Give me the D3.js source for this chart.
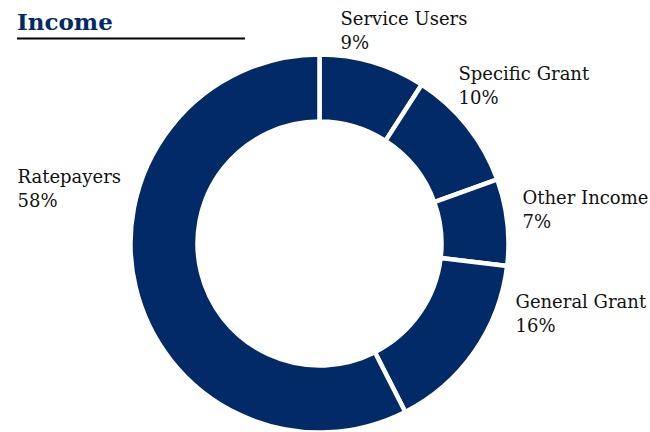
<!DOCTYPE html>
<html>
<head>
<meta charset="utf-8">
<script src="https://cdn.jsdelivr.net/npm/d3@7"></script>
<style>
  body { margin: 0; background: #fff; }
  text { font-family: "DejaVu Serif", "Liberation Serif", serif; }
</style>
</head>
<body>
<svg></svg>
<script>
// data
var categories = ["Service Users", "Specific Grant", "Other Income", "General Grant", "Ratepayers"];
var shares = [9.1, 10.4, 7.4, 15.6, 57.5];
var pctLabels = ["9%", "10%", "7%", "16%", "58%"];

var width = 650, height = 432;
var svg = d3.select("svg").attr("width", width).attr("height", height);

var cx = 319.5, cy = 243.5, outerR = 189, innerR = 122;
var navy = "#022a66";

// title
svg.append("text")
  .attr("x", 17).attr("y", 30)
  .style("font-size", "23px").style("font-weight", "bold")
  .style("fill", navy)
  .text("Income");
svg.append("line")
  .attr("x1", 17).attr("x2", 245).attr("y1", 38.5).attr("y2", 38.5)
  .style("stroke", "#000").style("stroke-width", 2);

var pie = d3.pie().sort(null).value(d => d);
var arc = d3.arc().innerRadius(innerR).outerRadius(outerR);

var g = svg.append("g").attr("transform", "translate(" + cx + "," + cy + ")");

var arcs = pie(shares);

g.selectAll(".slice")
  .data(arcs)
  .enter().append("path")
  .attr("class", "slice")
  .attr("d", arc)
  .style("fill", navy)
  .style("stroke", "#fff")
  .style("stroke-width", 4.5)
  .style("stroke-linejoin", "miter");

// label anchor points (layout only), relative to chart centre
var labelPos = [[21, -219], [139, -164], [203, -40], [196, 64], [-302, -61]];

var labels = svg.selectAll(".lbl")
  .data(arcs)
  .enter().append("text")
  .attr("class", "lbl")
  .attr("transform", (d, i) => "translate(" + (cx + labelPos[i][0]) + "," + (cy + labelPos[i][1]) + ")")
  .style("font-size", "18px")
  .style("fill", "#111");

labels.append("tspan").attr("x", 0).attr("y", 0).text((d, i) => categories[i]);
labels.append("tspan").attr("x", 0).attr("y", 24).text((d, i) => pctLabels[i]);
</script>
</body>
</html>
